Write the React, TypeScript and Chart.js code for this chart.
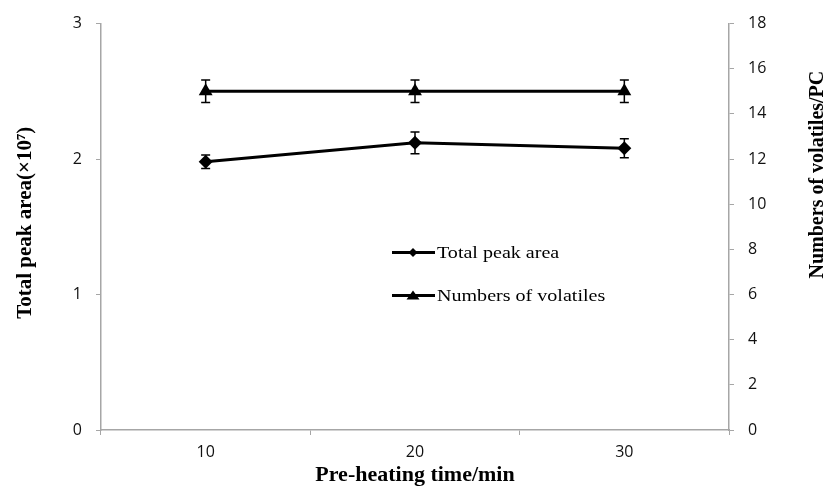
import React, { useEffect, useRef } from "react";
import { Chart, registerables } from "chart.js";

Chart.register(...registerables);

const categories = ["10", "20", "30"];
const peakArea = [1.98, 2.12, 2.08];
const peakAreaErr = [0.05, 0.08, 0.07];
const volatiles = [15, 15, 15];
const volatilesErr = [0.5, 0.5, 0.5];
const leftAxisMax = 3;
const rightAxisMax = 18;
const seriesNames = ["Total peak area", "Numbers of volatiles"];
const xTitle = "Pre-heating time/min";
const leftTitle = "Total peak area(×10⁷)";
const rightTitle = "Numbers of volatiles/PC";

const AXIS_GRAY = "#a6a6a6";
const TICK_FONT = { family: "'Open Sans'", size: 16 };

const errorBarPlugin = {
  id: "errorBars",
  afterDatasetsDraw(chart: any) {
    const ctx = chart.ctx;
    const errs = [peakAreaErr, volatilesErr];
    chart.data.datasets.forEach((ds: any, i: number) => {
      const meta = chart.getDatasetMeta(i);
      const scale = chart.scales[ds.yAxisID];
      ctx.save();
      ctx.strokeStyle = "#000";
      ctx.lineWidth = 1.5;
      meta.data.forEach((pt: any, j: number) => {
        const v = ds.data[j];
        const e = errs[i][j];
        const yTop = scale.getPixelForValue(v + e);
        const yBot = scale.getPixelForValue(v - e);
        const x = pt.x;
        ctx.beginPath();
        ctx.moveTo(x, yTop);
        ctx.lineTo(x, yBot);
        ctx.moveTo(x - 4.5, yTop);
        ctx.lineTo(x + 4.5, yTop);
        ctx.moveTo(x - 4.5, yBot);
        ctx.lineTo(x + 4.5, yBot);
        ctx.stroke();
      });
      ctx.restore();
    });
  },
};

const legendPlugin = {
  id: "innerLegend",
  afterDraw(chart: any) {
    const ctx = chart.ctx;
    const a = chart.chartArea;
    const x0 = a.left + 291;
    const rows = [a.top + 229, a.top + 272];
    chart.data.datasets.forEach((ds: any, i: number) => {
      const y = rows[i];
      ctx.save();
      ctx.strokeStyle = "#000";
      ctx.lineWidth = 3;
      ctx.beginPath();
      ctx.moveTo(x0, y);
      ctx.lineTo(x0 + 43, y);
      ctx.stroke();
      ctx.fillStyle = "#000";
      const cx = x0 + 21;
      ctx.beginPath();
      if (i === 0) {
        ctx.moveTo(cx, y - 4.5);
        ctx.lineTo(cx + 4.5, y);
        ctx.lineTo(cx, y + 4.5);
        ctx.lineTo(cx - 4.5, y);
      } else {
        ctx.moveTo(cx, y - 5);
        ctx.lineTo(cx + 6.5, y + 4);
        ctx.lineTo(cx - 6.5, y + 4);
      }
      ctx.closePath();
      ctx.fill();
      ctx.translate(x0 + 45, y);
      ctx.scale(1.18, 1);
      ctx.font = "17px 'Liberation Serif'";
      ctx.textBaseline = "middle";
      ctx.textAlign = "left";
      ctx.fillText(seriesNames[i], 0, 1);
      ctx.restore();
    });
  },
};

const titlesPlugin = {
  id: "axisTitles",
  afterDraw(chart: any) {
    const ctx = chart.ctx;
    const a = chart.chartArea;
    ctx.save();
    ctx.fillStyle = "#000";
    ctx.textAlign = "center";
    ctx.textBaseline = "alphabetic";
    // x title
    ctx.font = "bold 22px 'Liberation Serif'";
    ctx.fillText(xTitle, (a.left + a.right) / 2, a.bottom + 51);
    // left title
    ctx.save();
    ctx.translate(31, (a.top + a.bottom) / 2 - 4);
    ctx.rotate(-Math.PI / 2);
    ctx.font = "bold 21px 'Liberation Serif'";
    ctx.fillText(leftTitle, 0, 0);
    ctx.restore();
    // right title
    ctx.save();
    ctx.translate(823, a.top + 151);
    ctx.rotate(-Math.PI / 2);
    ctx.font = "bold 20px 'Liberation Serif'";
    ctx.fillText(rightTitle, 0, 0);
    ctx.restore();
    ctx.restore();
  },
};

export default function App() {
  const ref = useRef<HTMLCanvasElement>(null);
  useEffect(() => {
    const chart = new Chart(ref.current!, {
      type: "line",
      data: {
        labels: categories,
        datasets: [
          {
            label: seriesNames[0],
            data: peakArea,
            yAxisID: "y",
            borderColor: "#000",
            backgroundColor: "#000",
            borderWidth: 3,
            pointStyle: "rectRot",
            pointRadius: 7,
            pointBorderWidth: 0,
          },
          {
            label: seriesNames[1],
            data: volatiles,
            yAxisID: "y1",
            borderColor: "#000",
            backgroundColor: "#000",
            borderWidth: 3,
            pointStyle: "triangle",
            pointRadius: 8,
            pointBorderWidth: 0,
          },
        ],
      },
      options: {
        animation: false,
        responsive: false,
        maintainAspectRatio: false,
        layout: { padding: { top: 23, left: 0, right: 0, bottom: 0 } },
        plugins: { legend: { display: false }, tooltip: { enabled: false } },
        scales: {
          x: {
            offset: true,
            grid: {
              offset: true,
              drawOnChartArea: false,
              drawTicks: true,
              tickLength: 5,
              color: AXIS_GRAY,
            },
            border: { color: AXIS_GRAY, width: 1.5 },
            ticks: { color: "#111", font: TICK_FONT, padding: 8 },
            afterFit(s: any) {
              s.height = 58;
            },
          },
          y: {
            position: "left",
            min: 0,
            max: leftAxisMax,
            grid: {
              drawOnChartArea: false,
              drawTicks: true,
              tickLength: 5,
              color: AXIS_GRAY,
            },
            border: { color: AXIS_GRAY, width: 1.5 },
            ticks: { stepSize: 1, color: "#111", font: TICK_FONT, padding: 14 },
            afterFit(s: any) {
              s.width = 101;
            },
          },
          y1: {
            position: "right",
            min: 0,
            max: rightAxisMax,
            grid: {
              drawOnChartArea: false,
              drawTicks: true,
              tickLength: 5,
              color: AXIS_GRAY,
            },
            border: { color: AXIS_GRAY, width: 1.5 },
            ticks: { stepSize: 2, color: "#111", font: TICK_FONT, padding: 14 },
            afterFit(s: any) {
              s.width = 94;
            },
          },
        },
      },
      plugins: [errorBarPlugin, legendPlugin, titlesPlugin],
    } as any);
    return () => chart.destroy();
  }, []);
  return (
    <div style={{ position: "fixed", left: 0, top: 0, width: 823, height: 488, background: "#fff" }}>
      <canvas ref={ref} width={823} height={488} style={{ width: 823, height: 488 }} />
    </div>
  );
}
